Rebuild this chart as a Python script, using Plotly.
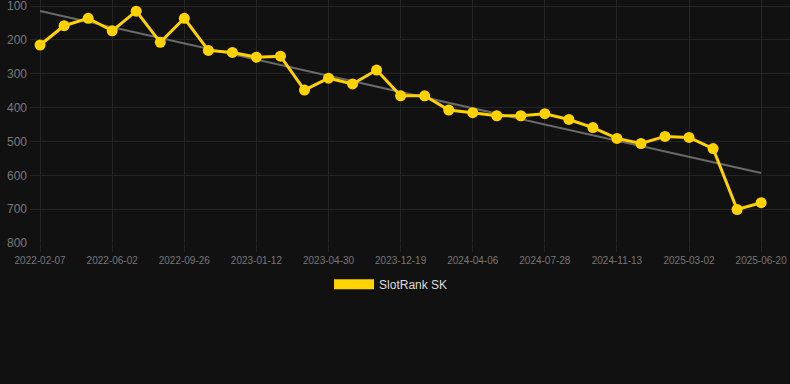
import numpy as np
import plotly.graph_objects as go

dates = [
    "2022-02-07", "2022-03-15", "2022-04-24", "2022-06-02", "2022-07-10", "2022-08-18",
    "2022-09-26", "2022-11-01", "2022-12-07", "2023-01-12", "2023-02-17", "2023-03-25",
    "2023-04-30", "2023-07-15", "2023-10-01", "2023-12-19", "2024-01-24", "2024-02-29",
    "2024-04-06", "2024-05-13", "2024-06-20", "2024-07-28", "2024-09-03", "2024-10-08",
    "2024-11-13", "2024-12-19", "2025-01-24", "2025-03-02", "2025-04-08", "2025-05-14",
    "2025-06-20",
]
ranks = [
    215, 158, 136, 173, 115, 207, 136, 231, 237, 251, 248, 348, 313, 330, 289, 365,
    365, 407, 415, 424, 424, 418, 435, 459, 491, 506, 485, 488, 521, 701, 681,
]
tick_labels = [
    "2022-02-07", "2022-06-02", "2022-09-26", "2023-01-12", "2023-04-30", "2023-12-19",
    "2024-04-06", "2024-07-28", "2024-11-13", "2025-03-02", "2025-06-20",
]
y_ticks = [100, 200, 300, 400, 500, 600, 700, 800]
series_name = "SlotRank SK"

GOLD = "#FFD200"
BG = "#111111"
GRID = "#242424"

idx = np.arange(len(ranks))
slope, intercept = np.polyfit(idx, ranks, 1)
trend = [float(intercept + slope * i) for i in (idx[0], idx[-1])]

fig = go.Figure()
fig.add_trace(go.Scatter(
    x=[dates[0], dates[-1]], y=trend, mode="lines",
    line=dict(color="#6a6a6a", width=2), showlegend=False, hoverinfo="skip",
))
fig.add_trace(go.Scatter(
    x=dates, y=ranks, mode="lines+markers", name=series_name,
    line=dict(color=GOLD, width=3), marker=dict(color=GOLD, size=11),
    showlegend=False, cliponaxis=False,
))
# legend swatch
fig.add_trace(go.Scatter(
    x=[None], y=[None], mode="lines", name=series_name,
    line=dict(color=GOLD, width=12),
))

fig.update_layout(
    width=790, height=384,
    paper_bgcolor=BG, plot_bgcolor=BG,
    margin=dict(l=30, r=0, t=0, b=141),
    font=dict(family="Liberation Sans, Arial, sans-serif", color="#7a7a7a"),
    showlegend=True,
    legend=dict(
        orientation="h", xref="container", yref="container",
        x=0.495, xanchor="center", y=0.26, yanchor="middle",
        font=dict(size=12, color="#dddddd"), bgcolor="rgba(0,0,0,0)",
        itemwidth=40,
    ),
    xaxis=dict(
        type="category", categoryorder="array", categoryarray=dates,
        range=[-0.42, 31.2],
        tickmode="array", tickvals=tick_labels, ticktext=tick_labels,
        showgrid=True, gridcolor=GRID, gridwidth=1,
        ticks="outside", ticklen=8, tickcolor=GRID,
        showline=False, zeroline=False,
        tickfont=dict(size=10, color="#777777"),
        ticklabeloverflow="allow",
    ),
    yaxis=dict(
        range=[800, 82],
        tickmode="array", tickvals=y_ticks,
        showgrid=True, gridcolor=GRID, gridwidth=1,
        zeroline=False, showline=False,
        tickfont=dict(size=12, color="#7a7a7a"),
        ticks="", ticklabelstandoff=2,
        ticklabeloverflow="allow",
    ),
)

fig.write_html(
    "out.html",
    config={"displayModeBar": False},
    post_script="document.body.style.margin='0';document.body.style.background='#111111';",
)
